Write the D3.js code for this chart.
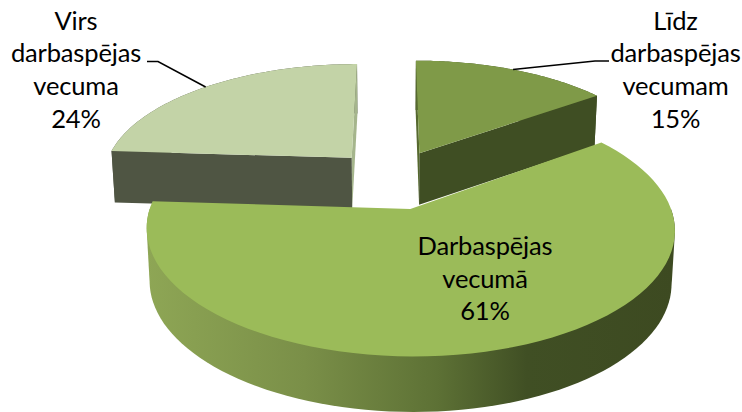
<!DOCTYPE html>
<html><head><meta charset="utf-8">
<script src="https://cdn.jsdelivr.net/npm/d3@7"></script>
<style>html,body{margin:0;background:#fff;overflow:hidden}svg{display:block}text{font-family:Lato,"Open Sans",sans-serif;fill:#000;font-size:25.5px;letter-spacing:-.15px}</style>
</head><body><svg id="c" width="742" height="412"></svg>
<script>
const categories=["Līdz darbaspējas vecumam","Darbaspējas vecumā","Virs darbaspējas vecuma"];
const values=[15,61,24];
const percentLabels=["15%","61%","24%"];
const labelLines=[["Līdz","darbaspējas","vecumam","15%"],["Darbaspējas","vecumā","61%"],["Virs","darbaspējas","vecuma","24%"]];
const topColors=["#7f9a48","#9bbb59","#c3d3a7"];
const sideColors=["#3f4e23","#3f4e23","#4f5543"];
const innerColors=["#56692f","#3f4e23","#a5b58c"];
const svg=d3.select("#c");

// perspective view of the exploded pie plane
const view={cx:392.5,cy:179,A:250.5,B:114.3,p:.155,explodeU:.245,explodeV:.262,depth:52,depthPow:.3,shrink:.988};
function project(u,v,low){
  const w=1-view.p*v, s=low?view.shrink:1;
  return [view.cx+s*view.A*u/w, view.cy+view.B*v/w+(low?view.depth/Math.pow(w,view.depthPow):0)];
}
const arcs=d3.pie().sort(null).value(d=>d)(values).map((d,i)=>{
  const mid=(d.startAngle+d.endAngle)/2;
  return {...d,i,du:view.explodeU*Math.sin(mid),dv:-view.explodeV*Math.cos(mid)};
});
const rim=(a,t,low)=>project(a.du+Math.sin(t),a.dv-Math.cos(t),low);
const apex=(a,low)=>project(a.du,a.dv,low);
const rimPts=(a,low)=>d3.range(0,81).map(k=>rim(a,a.startAngle+(a.endAngle-a.startAngle)*k/80,low));
const line=d3.line().curve(d3.curveLinear);

const defs=svg.append("defs");
const grad=defs.append("linearGradient").attr("id","wall").attr("x1","0").attr("x2","1").attr("y1","0").attr("y2","0");
[[0,"#8ea655"],[.3,"#7a8f48"],[.55,"#5d7135"],[.72,"#404f24"],[1,"#3d4a21"]].forEach(s=>grad.append("stop").attr("offset",s[0]).attr("stop-color",s[1]));

function drawSlice(a){
  const g=svg.append("g").attr("class","slice");
  const top=rimPts(a,false), bot=rimPts(a,true);
  if(a.i===1){
    // silhouette of the front half of the rim, so the wall meets the top tangentially
    const front=d3.range(0,81).map(k=>Math.PI/2+Math.PI*k/80);
    const hull=d3.polygonHull(front.map(t=>rim(a,t)).concat(front.map(t=>rim(a,t,true))));
    g.append("path").attr("d",line(hull)+"Z").attr("fill","url(#wall)");
  }else{
    // outer wall (hidden behind the top) then the two cut faces
    g.append("path").attr("d",line(top.concat(bot.slice().reverse()))+"Z").attr("fill",sideColors[a.i]);
    const edgeAngle=a.i===0?a.endAngle:a.startAngle, innerAngle=a.i===0?a.startAngle:a.endAngle;
    g.append("path").attr("d",line([apex(a),rim(a,innerAngle),rim(a,innerAngle,true),apex(a,true)])+"Z").attr("fill",innerColors[a.i]);
    g.append("path").attr("d",line([apex(a),rim(a,edgeAngle),rim(a,edgeAngle,true),apex(a,true)])+"Z").attr("fill",sideColors[a.i]);
  }
  g.append("path").attr("d",line([apex(a)].concat(top))+"Z").attr("fill",topColors[a.i]);
}
[arcs[0],arcs[2],arcs[1]].forEach(drawSlice);

// leader lines: label elbow to a rim point of the slice
const leaders=[{slice:0,frac:.5,from:[[609,61],[595,61]]},{slice:2,frac:.5,from:[[147,61.5],[158,61.5]]}];
leaders.forEach(l=>{
  const a=arcs[l.slice], t=a.startAngle+(a.endAngle-a.startAngle)*l.frac;
  svg.append("path").attr("d",line(l.from.concat([rim(a,t)]))).attr("fill","none").attr("stroke","#000").attr("stroke-width",1.5);
});

// labels
const labelPos=[{x:675.5,y:29.5,dy:32.7},{x:485,y:255,dy:32.5},{x:76,y:29.5,dy:32.7}];
labelLines.forEach((lines,i)=>{
  svg.append("text").attr("text-anchor","middle").selectAll("tspan").data(lines).join("tspan")
    .attr("x",labelPos[i].x).attr("y",(d,k)=>labelPos[i].y+k*labelPos[i].dy).text(d=>d);
});
</script></body></html>
